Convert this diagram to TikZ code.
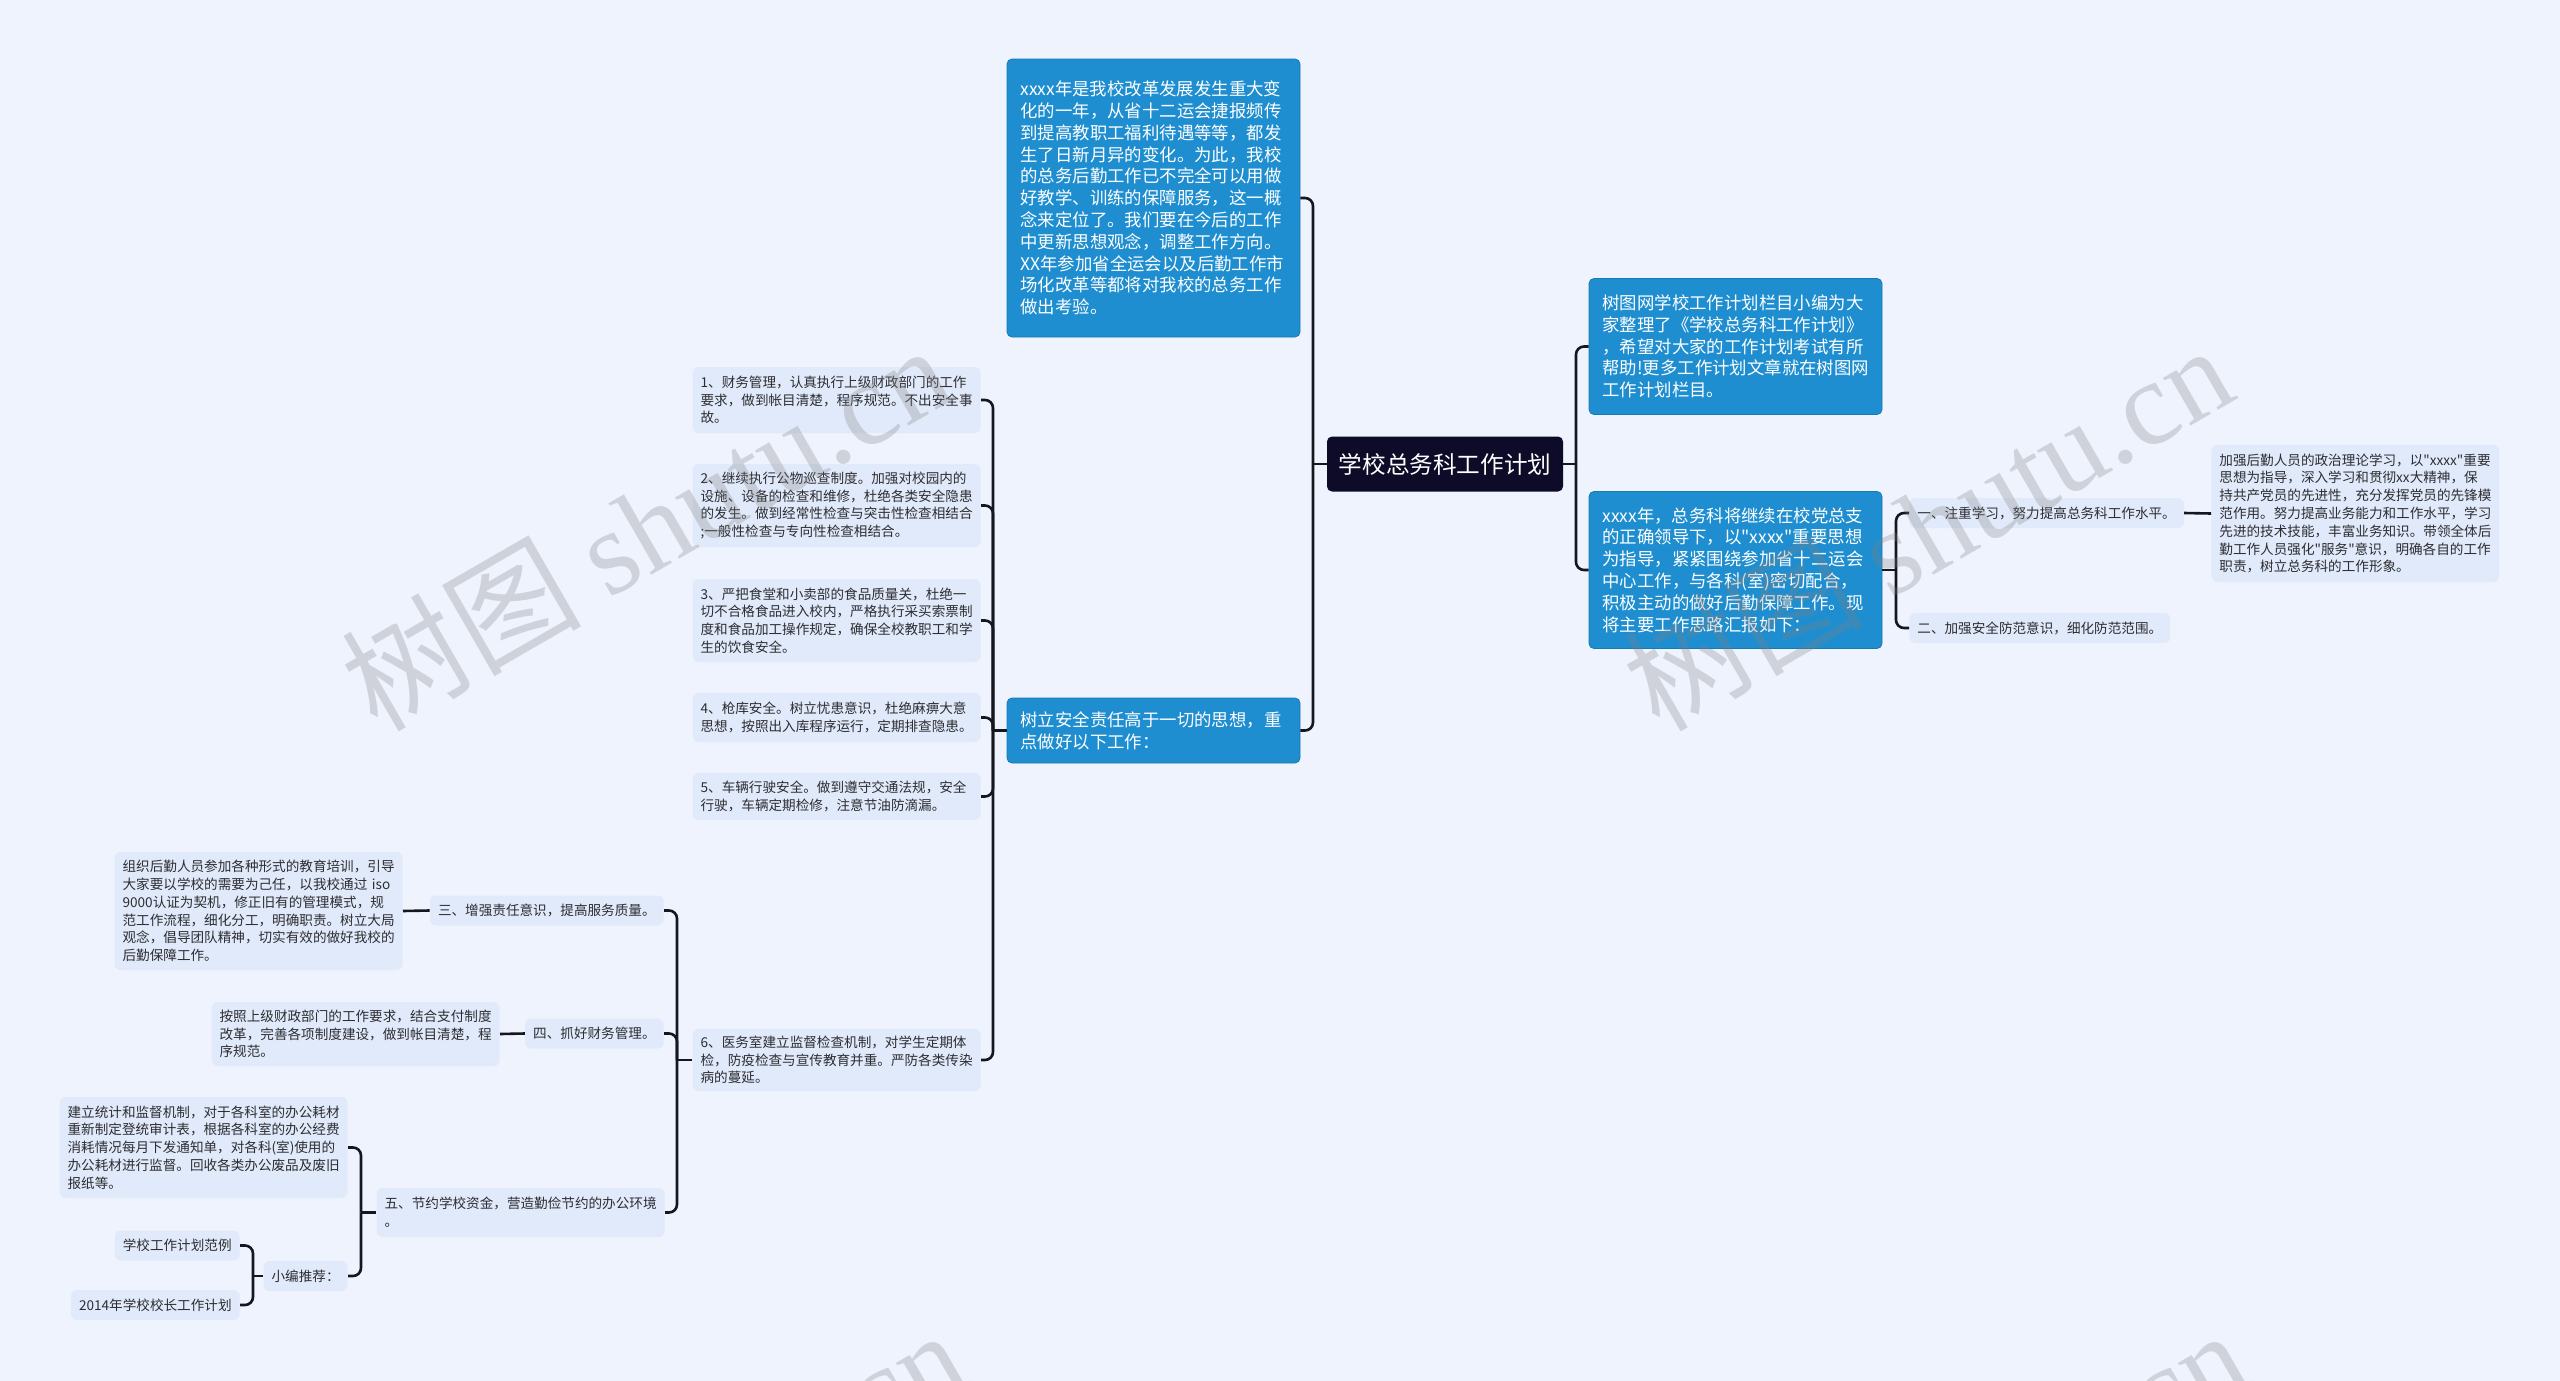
\documentclass[tikz,border=0pt]{standalone}
\usepackage{fontspec}
\setmainfont{Noto Sans CJK SC}[Ligatures=TeXOff]
\newfontfamily\wmlatin{Liberation Serif}
\usetikzlibrary{positioning}
\definecolor{pagebg}{RGB}{238,243,253}
\definecolor{leafbg}{RGB}{225,234,250}
\definecolor{mainblue}{RGB}{30,142,208}
\definecolor{rootnavy}{RGB}{14,11,40}
\definecolor{linkblack}{RGB}{22,22,30}
\definecolor{leaftext}{RGB}{45,45,50}

\begin{document}
\begin{tikzpicture}[x=0.5pt, y=-0.5pt]
\tikzset{
  root/.style={fill=rootnavy, text=white, rounded corners=2.5pt, minimum width=118pt, minimum height=27.5pt, font=\fontsize{11.8}{14}\selectfont},
  topic/.style={fill=mainblue, draw=mainblue!85!black, line width=0.4pt, text=white, rounded corners=2.5pt, text width=133pt, align=left, inner xsep=6.75pt, inner ysep=4pt, font=\fontsize{8.7}{10.9}\selectfont},
  leaf/.style={fill=leafbg, text=leaftext, rounded corners=3pt, align=left, inner xsep=4pt, inner ysep=3pt, minimum height=15pt, font=\fontsize{6.8}{8.9}\selectfont},
  note/.style={leaf, text width=136pt},
  link/.style={draw=linkblack, line width=1.3pt, rounded corners=4pt},
  wmark/.style={text=gray, opacity=0.28, font=\fontsize{60}{60}\selectfont, inner sep=0pt}
}
\fill[pagebg] (0,0) rectangle (2560,1381);
\useasboundingbox (0,0) rectangle (2560,1381);

% centre
\node[root] (plan) at (1445,464) {学校总务科工作计划};

% left main topics
\node[topic, minimum height=139pt] (review) at (1153.5,198) {xxxx年是我校改革发展发生重大变\\化的一年，从省十二运会捷报频传\\到提高教职工福利待遇等等，都发\\生了日新月异的变化。为此，我校\\的总务后勤工作已不完全可以用做\\好教学、训练的保障服务，这一概\\念来定位了。我们要在今后的工作\\中更新思想观念，调整工作方向。\\XX年参加省全运会以及后勤工作市\\场化改革等都将对我校的总务工作\\做出考验。};
\node[topic, minimum height=32.5pt] (safety) at (1153.5,730.5) {树立安全责任高于一切的思想，重\\点做好以下工作：};

% right main topics
\node[topic, minimum height=68pt] (intro) at (1735.5,346.5) {树图网学校工作计划栏目小编为大\\家整理了《学校总务科工作计划》\\，希望对大家的工作计划考试有所\\帮助!更多工作计划文章就在树图网\\工作计划栏目。};
\node[topic, minimum height=78.5pt] (outline) at (1735.5,570) {xxxx年，总务科将继续在校党总支\\的正确领导下，以"xxxx"重要思想\\为指导，紧紧围绕参加省十二运会\\中心工作，与各科(室)密切配合，\\积极主动的做好后勤保障工作。现\\将主要工作思路汇报如下：};

% right leaves
\node[leaf, anchor=west] (study) at (1909,513) {一、注重学习，努力提高总务科工作水平。};
\node[leaf, anchor=west] (guard) at (1909,628) {二、加强安全防范意识，细化防范范围。};
\node[note, anchor=west, minimum height=68.5pt] (studydetail) at (2211,513.5) {加强后勤人员的政治理论学习，以"xxxx"重要\\思想为指导，深入学习和贯彻xx大精神，保\\持共产党员的先进性，充分发挥党员的先锋模\\范作用。努力提高业务能力和工作水平，学习\\先进的技术技能，丰富业务知识。带领全体后\\勤工作人员强化"服务"意识，明确各自的工作\\职责，树立总务科的工作形象。};

% safety items
\node[note, anchor=east, minimum height=33pt] (finance) at (981,400) {1、财务管理，认真执行上级财政部门的工作\\要求，做到帐目清楚，程序规范。不出安全事\\故。};
\node[note, anchor=east, minimum height=41.5pt] (patrol) at (981,505.5) {2、继续执行公物巡查制度。加强对校园内的\\设施、设备的检查和维修，杜绝各类安全隐患\\的发生。做到经常性检查与突击性检查相结合\\;一般性检查与专向性检查相结合。};
\node[note, anchor=east, minimum height=41.5pt] (canteen) at (981,620.5) {3、严把食堂和小卖部的食品质量关，杜绝一\\切不合格食品进入校内，严格执行采买索票制\\度和食品加工操作规定，确保全校教职工和学\\生的饮食安全。};
\node[note, anchor=east, minimum height=24.5pt] (armory) at (981,717.5) {4、枪库安全。树立忧患意识，杜绝麻痹大意\\思想，按照出入库程序运行，定期排查隐患。};
\node[note, anchor=east, minimum height=23.5pt] (vehicle) at (981,796.5) {5、车辆行驶安全。做到遵守交通法规，安全\\行驶，车辆定期检修，注意节油防滴漏。};
\node[note, anchor=east, minimum height=31pt] (clinic) at (981,1060) {6、医务室建立监督检查机制，对学生定期体\\检，防疫检查与宣传教育并重。严防各类传染\\病的蔓延。};

% sub points
\node[leaf, anchor=east] (duty) at (664,910.5) {三、增强责任意识，提高服务质量。};
\node[leaf, anchor=east] (budget) at (664,1033.5) {四、抓好财务管理。};
\node[note, anchor=east, minimum height=24.5pt] (thrift) at (665,1212.5) {五、节约学校资金，营造勤俭节约的办公环境\\。};
\node[note, anchor=east, minimum height=59pt] (dutydetail) at (403,911) {组织后勤人员参加各种形式的教育培训，引导\\大家要以学校的需要为己任，以我校通过~iso\\9000认证为契机，修正旧有的管理模式，规\\范工作流程，细化分工，明确职责。树立大局\\观念，倡导团队精神，切实有效的做好我校的\\后勤保障工作。};
\node[note, anchor=east, minimum height=32pt] (budgetdetail) at (500,1034) {按照上级财政部门的工作要求，结合支付制度\\改革，完善各项制度建设，做到帐目清楚，程\\序规范。};
\node[note, anchor=east, minimum height=50.5pt] (thriftdetail) at (348,1147.5) {建立统计和监督机制，对于各科室的办公耗材\\重新制定登统审计表，根据各科室的办公经费\\消耗情况每月下发通知单，对各科(室)使用的\\办公耗材进行监督。回收各类办公废品及废旧\\报纸等。};
\node[leaf, anchor=east] (picks) at (348,1276) {小编推荐：};
\node[leaf, anchor=east] (pick1) at (240,1245.5) {学校工作计划范例};
\node[leaf, anchor=east] (pick2) at (240,1305) {2014年学校校长工作计划};

% junctions
\coordinate (jl) at (1313,464);
\coordinate (jr) at (1576,464);
\coordinate (jo) at (1896,570);
\coordinate (js) at (993,730.5);
\coordinate (jc) at (677,1060);
\coordinate (jt) at (361,1212.5);
\coordinate (jp) at (253,1276);

% connectors
\draw[link] (plan.west) -- (jl);
\draw[link] (jl) |- (review.east);
\draw[link] (jl) |- (safety.east);
\draw[link] (plan.east) -- (jr);
\draw[link] (jr) |- (intro.west);
\draw[link] (jr) |- (outline.west);
\draw[link] (outline.east) -- (jo);
\draw[link] (jo) |- (study.west);
\draw[link] (jo) |- (guard.west);
\draw[link] (study.east) -- (studydetail.west);
\draw[link] (safety.west) -- (js);
\foreach \n in {finance,patrol,canteen,armory,vehicle,clinic}
  \draw[link] (js) |- (\n.east);
\draw[link] (clinic.west) -- (jc);
\foreach \n in {duty,budget,thrift}
  \draw[link] (jc) |- (\n.east);
\draw[link] (duty.west) -- (dutydetail.east);
\draw[link] (budget.west) -- (budgetdetail.east);
\draw[link] (thrift.west) -- (jt);
\draw[link] (jt) |- (thriftdetail.east);
\draw[link] (jt) |- (picks.east);
\draw[link] (picks.west) -- (jp);
\draw[link] (jp) |- (pick1.east);
\draw[link] (jp) |- (pick2.east);

% watermark
\begin{scope}
\clip (0,0) rectangle (2560,1381);
\foreach \i/\dx/\dy in {1/0/0, 2/1282/0, 3/15/985, 4/1297/985}
  \node[wmark, rotate=30] (wm\i) at (645+\dx,526+\dy) {树图 {\wmlatin shutu.cn}};
\end{scope}
\end{tikzpicture}
\end{document}
